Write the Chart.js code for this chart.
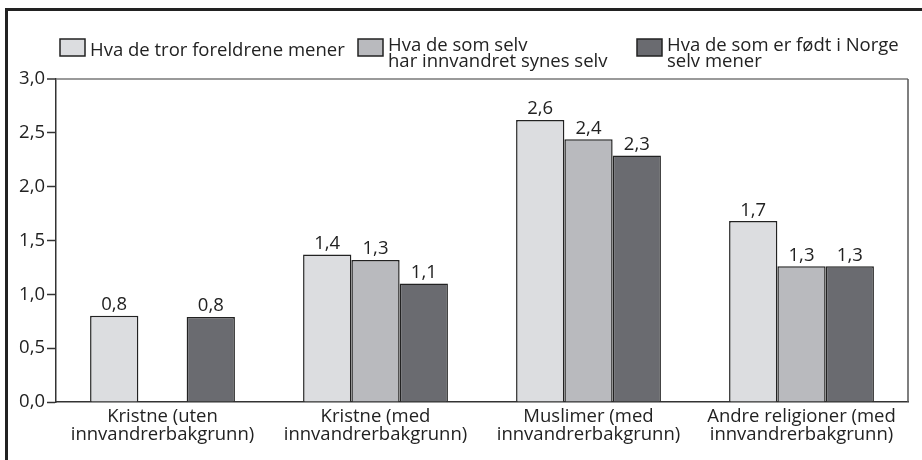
<!DOCTYPE html>
<html>
<head>
<meta charset="utf-8">
<script src="https://cdn.jsdelivr.net/npm/chart.js@4.4.1/dist/chart.umd.min.js"></script>
<style>
  html, body { margin: 0; padding: 0; background: #fff; }
  #wrap { position: relative; width: 922px; height: 460px; overflow: hidden; }
  #frame { position: absolute; left: 5px; top: 8px; width: 940px; height: 480px; border: 3px solid #222; }
  #chart { position: absolute; left: 0; top: 0; }
</style>
</head>
<body>
<div id="wrap">
  <div id="frame"></div>
  <canvas id="chart" width="922" height="460"></canvas>
</div>
<script>
// data
const categories = [
  ['Kristne (uten', 'innvandrerbakgrunn)'],
  ['Kristne (med', 'innvandrerbakgrunn)'],
  ['Muslimer (med', 'innvandrerbakgrunn)'],
  ['Andre religioner (med', 'innvandrerbakgrunn)']
];
const seriesNames = [
  'Hva de tror foreldrene mener',
  'Hva de som selv\nhar innvandret synes selv',
  'Hva de som er født i Norge\nselv mener'
];
const parentsView = [0.80, 1.37, 2.62, 1.68];
const immigrantsView = [null, 1.32, 2.44, 1.26];
const norwayBornView = [0.79, 1.10, 2.29, 1.26];
const seriesColors = ['#dcdde0', '#b9babe', '#6a6b70'];
const yMin = 0;
const yMax = 3;
const yStep = 0.5;

const FONT = "'Open Sans', 'Noto Sans', sans-serif";
const SIZE = 18.5;
const fmt = v => v.toFixed(1).replace('.', ',');

Chart.defaults.font.family = FONT;
Chart.defaults.color = '#222';

// value labels above each bar
const valueLabels = {
  id: 'valueLabels',
  afterDatasetsDraw(chart) {
    const ctx = chart.ctx;
    ctx.save();
    ctx.font = SIZE + 'px ' + FONT;
    ctx.fillStyle = '#222';
    ctx.textAlign = 'center';
    ctx.textBaseline = 'alphabetic';
    chart.data.datasets.forEach((ds, i) => {
      chart.getDatasetMeta(i).data.forEach((bar, j) => {
        const v = ds.data[j];
        if (v == null) return;
        ctx.fillText(fmt(v), bar.x, bar.y - 5.5);
      });
    });
    ctx.restore();
  }
};

// right edge of the plot box
const plotFrame = {
  id: 'plotFrame',
  beforeDatasetsDraw(chart) {
    const { ctx, chartArea: a } = chart;
    ctx.save();
    ctx.strokeStyle = '#555';
    ctx.lineWidth = 1.5;
    ctx.beginPath();
    ctx.moveTo(a.right, a.top);
    ctx.lineTo(a.right, a.bottom);
    ctx.stroke();
    ctx.restore();
  }
};

// legend with two-line entries
const legendBoxes = {
  id: 'legendBoxes',
  afterDraw(chart) {
    const ctx = chart.ctx;
    const xs = [60, 358, 637];
    ctx.save();
    ctx.font = SIZE + 'px ' + FONT;
    ctx.textAlign = 'left';
    ctx.textBaseline = 'alphabetic';
    chart.data.datasets.forEach((ds, i) => {
      const x = xs[i];
      ctx.fillStyle = ds.backgroundColor;
      ctx.fillRect(x, 39, 25, 17);
      ctx.strokeStyle = '#222';
      ctx.lineWidth = 1.5;
      ctx.strokeRect(x, 39, 25, 17);
      const lines = seriesNames[i].split('\n');
      ctx.fillStyle = '#222';
      lines.forEach((line, k) => {
        const base = lines.length === 1 ? 56 : 51 + k * 16;
        ctx.fillText(line, x + 30, base);
      });
    });
    ctx.restore();
  }
};

new Chart(document.getElementById('chart'), {
  type: 'bar',
  data: {
    labels: categories,
    datasets: [
      { label: seriesNames[0], data: parentsView, backgroundColor: seriesColors[0] },
      { label: seriesNames[1], data: immigrantsView, backgroundColor: seriesColors[1] },
      { label: seriesNames[2], data: norwayBornView, backgroundColor: seriesColors[2] }
    ]
  },
  options: {
    responsive: false,
    animation: false,
    layout: { padding: { left: 6, top: 79, right: 14, bottom: 0 } },
    datasets: {
      bar: {
        borderColor: '#222',
        borderWidth: 1.5,
        categoryPercentage: 0.68,
        barPercentage: 1
      }
    },
    plugins: {
      legend: { display: false },
      tooltip: { enabled: false }
    },
    scales: {
      x: {
        offset: true,
        grid: { display: false, drawTicks: false },
        border: { color: '#333', width: 1.5 },
        ticks: {
          font: { size: SIZE, lineHeight: '18px' },
          color: '#222',
          padding: 6,
          maxRotation: 0,
          autoSkip: false
        },
        afterFit: s => { s.height = 58; }
      },
      y: {
        min: yMin,
        max: yMax,
        grid: {
          color: c => (c.tick && c.tick.value === yMax ? '#9a9a9a' : 'rgba(0,0,0,0)'),
          lineWidth: c => (c.tick && c.tick.value === yMax ? 2 : 1),
          tickColor: '#333',
          tickLength: 9,
          tickWidth: 1.5
        },
        border: { color: '#333', width: 1.5 },
        ticks: {
          stepSize: yStep,
          font: { size: SIZE },
          color: '#222',
          padding: 2,
          callback: v => fmt(v)
        },
        afterFit: s => { s.width = 50; }
      }
    }
  },
  plugins: [plotFrame, valueLabels, legendBoxes]
});
</script>
</body>
</html>
